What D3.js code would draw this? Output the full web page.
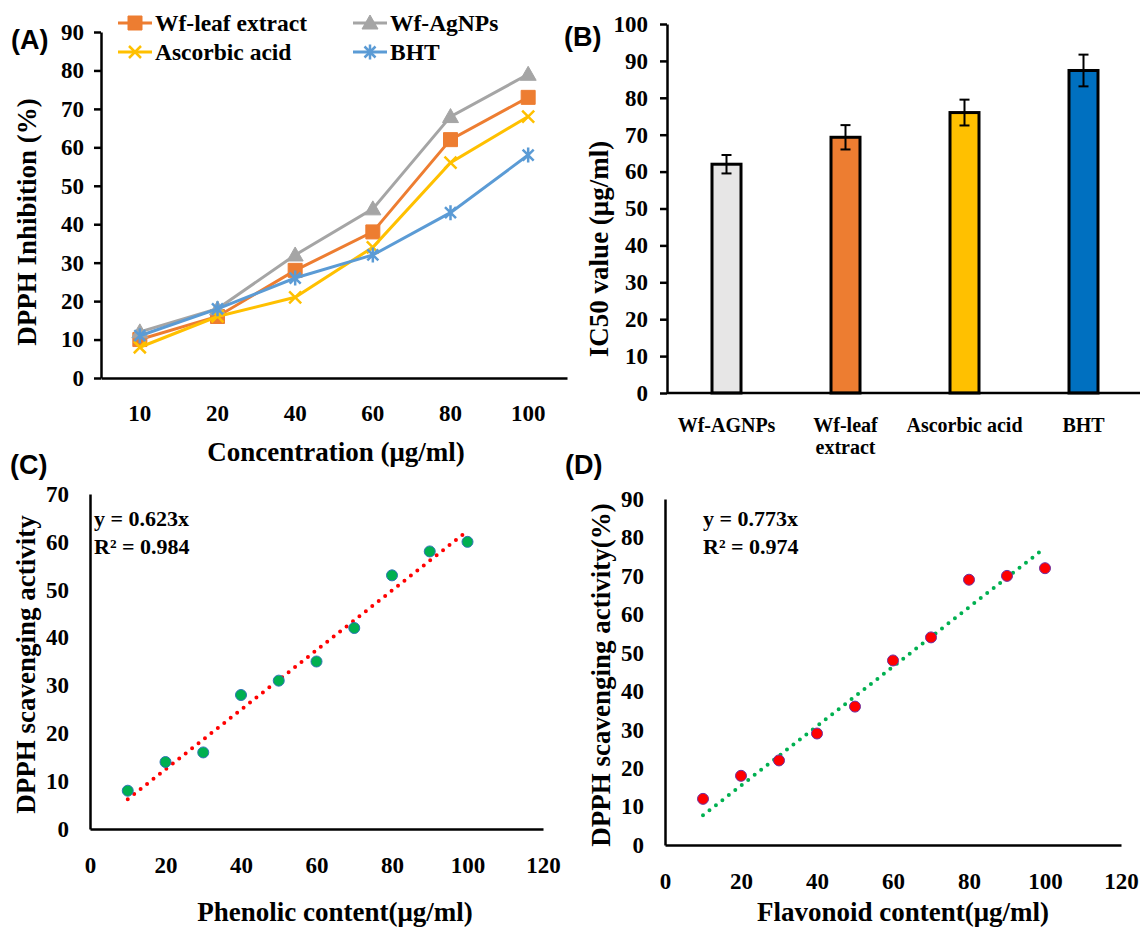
<!DOCTYPE html>
<html>
<head>
<meta charset="utf-8">
<script src="https://cdn.jsdelivr.net/npm/d3@7"></script>
<style>
  body { margin: 0; background: #fff; }
  svg text { font-family: "Liberation Serif", "Times New Roman", serif; font-weight: bold; fill: #000; }
  .panel-tag { font-family: "Liberation Sans", Arial, sans-serif; font-size: 27px; }
</style>
</head>
<body>
<svg id="fig" width="1140" height="929"></svg>
<script>
// ---- panel A data: DPPH inhibition vs concentration ----
const concLabels = ["10", "20", "40", "60", "80", "100"];
const leafExtract = [10, 16, 28, 38, 62, 73];
const agNPs = [12, 18, 32, 44, 68, 79];
const ascorbic = [8, 16, 21, 34, 56, 68];
const bht = [11, 18, 26, 32, 43, 58];
const ticksA = [0, 10, 20, 30, 40, 50, 60, 70, 80, 90];

// ---- panel B data: IC50 values ----
const ic50Names = ["Wf-AGNPs", "Wf-leaf extract", "Ascorbic acid", "BHT"];
const ic50Values = [62, 69.3, 76, 87.4];
const ic50Err = [2.5, 3.3, 3.5, 4.3];
const ticksB = [0, 10, 20, 30, 40, 50, 60, 70, 80, 90, 100];

// ---- panel C data: phenolic content ----
const phenolicX = [10, 20, 30, 40, 50, 60, 70, 80, 90, 100];
const phenolicY = [8, 14, 16, 28, 31, 35, 42, 53, 58, 60];
const phenolicSlope = 0.623;
const ticksCy = [0, 10, 20, 30, 40, 50, 60, 70];

// ---- panel D data: flavonoid content ----
const flavonoidX = [10, 20, 30, 40, 50, 60, 70, 80, 90, 100];
const flavonoidY = [12, 18, 22, 29, 36, 48, 54, 69, 70, 72];
const flavonoidSlope = 0.773;
const ticksDy = [0, 10, 20, 30, 40, 50, 60, 70, 80, 90];
const ticksX = [0, 20, 40, 60, 80, 100, 120];

const svg = d3.select("#fig");
svg.append("rect").attr("width", 1140).attr("height", 929).attr("fill", "#fff");

// style an axis: thick black line, bold serif labels
function styleAxis(g, fontSize) {
  g.select(".domain").attr("stroke", "#000").attr("stroke-width", 2.5);
  g.selectAll(".tick line").attr("stroke", "#000").attr("stroke-width", 2.5);
  g.selectAll(".tick text")
    .attr("font-size", fontSize)
    .attr("font-family", "Liberation Serif")
    .attr("font-weight", "bold")
    .attr("fill", "#000");
}

function markerPath(type) {
  if (type === "square") return "M-7,-7H7V7H-7Z";
  if (type === "triangle") return "M0,-8L8,6H-8Z";
  if (type === "x") return "M-6,-6L6,6M-6,6L6,-6";
  return "M-5.5,-5.5L5.5,5.5M-5.5,5.5L5.5,-5.5M0,-7.5L0,7.5"; // star
}
const filled = m => m === "square" || m === "triangle";

// ================= Panel A =================
const xA = d3.scaleBand().domain(concLabels).range([101, 567]);
const yA = d3.scaleLinear().domain([0, 90]).range([378, 32]);

const seriesA = [
  { name: "Wf-leaf extract", values: leafExtract, color: "#ED7D31", marker: "square" },
  { name: "Wf-AgNPs", values: agNPs, color: "#A5A5A5", marker: "triangle" },
  { name: "Ascorbic acid", values: ascorbic, color: "#FFC000", marker: "x" },
  { name: "BHT", values: bht, color: "#5B9BD5", marker: "star" },
];

const axAy = svg.append("g").attr("transform", "translate(101,0)")
  .call(d3.axisLeft(yA).tickValues(ticksA).tickSize(7).tickSizeOuter(0).tickPadding(10));
styleAxis(axAy, 23);

const axAx = svg.append("g").attr("transform", "translate(0,378)")
  .call(d3.axisBottom(xA).tickSize(0).tickSizeOuter(0));
styleAxis(axAx, 23);
axAx.selectAll(".tick text").attr("y", 35).attr("dy", "0.35em");

const lineA = d3.line()
  .x((d, i) => xA(concLabels[i]) + xA.bandwidth() / 2)
  .y(d => yA(d));

seriesA.forEach(s => {
  svg.append("path").attr("d", lineA(s.values))
    .attr("fill", "none").attr("stroke", s.color).attr("stroke-width", 3);
  svg.selectAll(null).data(s.values).enter().append("path")
    .attr("transform", (d, i) => `translate(${xA(concLabels[i]) + xA.bandwidth() / 2},${yA(d)})`)
    .attr("d", markerPath(s.marker))
    .attr("fill", filled(s.marker) ? s.color : "none")
    .attr("stroke", s.color)
    .attr("stroke-width", filled(s.marker) ? 1 : 2.5);
});

// legend of panel A
const legendPos = [[118, 23], [353, 23], [118, 52], [353, 52]];
seriesA.forEach((s, i) => {
  const [lx, ly] = legendPos[i];
  const g = svg.append("g").attr("transform", `translate(${lx},${ly})`);
  g.append("line").attr("x1", 0).attr("x2", 34).attr("stroke", s.color).attr("stroke-width", 3);
  g.append("path").attr("transform", "translate(17,0)").attr("d", markerPath(s.marker))
    .attr("fill", filled(s.marker) ? s.color : "none")
    .attr("stroke", s.color)
    .attr("stroke-width", filled(s.marker) ? 1 : 2.5);
  g.append("text").attr("x", 37).attr("dy", "0.35em").attr("font-size", 23.5).text(s.name);
});

svg.append("text").attr("transform", "translate(27,222) rotate(-90)")
  .attr("text-anchor", "middle").attr("dy", "0.35em").attr("font-size", 27)
  .text("DPPH Inhibition (%)");
svg.append("text").attr("x", 336).attr("y", 452).attr("dy", "0.35em")
  .attr("text-anchor", "middle").attr("font-size", 27).text("Concentration (μg/ml)");
svg.append("text").attr("class", "panel-tag").attr("x", 11).attr("y", 49).text("(A)");

// ================= Panel B =================
const xB = d3.scaleBand().domain(ic50Names).range([667, 1143]);
const yB = d3.scaleLinear().domain([0, 100]).range([393, 24]);
const barW = 29;

const axBy = svg.append("g").attr("transform", "translate(667,0)")
  .call(d3.axisLeft(yB).tickValues(ticksB).tickSize(7).tickSizeOuter(0).tickPadding(12));
styleAxis(axBy, 23);

const barColors = ["#E7E6E6", "#ED7D31", "#FFC000", "#0070C0"];
svg.selectAll(".barB").data(ic50Values).enter().append("rect")
  .attr("x", (d, i) => xB(ic50Names[i]) + xB.bandwidth() / 2 - barW / 2)
  .attr("y", d => yB(d))
  .attr("width", barW)
  .attr("height", d => yB(0) - yB(d))
  .attr("fill", (d, i) => barColors[i])
  .attr("stroke", "#000").attr("stroke-width", 3);

// error bars
ic50Values.forEach((v, i) => {
  const cx = xB(ic50Names[i]) + xB.bandwidth() / 2;
  const g = svg.append("g").attr("stroke", "#000").attr("stroke-width", 2);
  g.append("line").attr("x1", cx).attr("x2", cx).attr("y1", yB(v - ic50Err[i])).attr("y2", yB(v + ic50Err[i]));
  g.append("line").attr("x1", cx - 5).attr("x2", cx + 5).attr("y1", yB(v - ic50Err[i])).attr("y2", yB(v - ic50Err[i]));
  g.append("line").attr("x1", cx - 5).attr("x2", cx + 5).attr("y1", yB(v + ic50Err[i])).attr("y2", yB(v + ic50Err[i]));
});

const axBx = svg.append("g").attr("transform", "translate(0,393)")
  .call(d3.axisBottom(xB).tickSize(0).tickSizeOuter(0));
styleAxis(axBx, 20);
axBx.select(".domain").attr("d", "M667,0H1140");
// wrap labels clearly wider than a band onto two lines
axBx.selectAll(".tick text").each(function (d) {
  const t = d3.select(this);
  t.attr("y", 32).attr("dy", "0.35em");
  if (this.getComputedTextLength() > xB.bandwidth() + 6) {
    const words = d.split(" ");
    t.text(null);
    t.append("tspan").attr("x", 0).attr("dy", "0.35em").text(words.slice(0, -1).join(" "));
    t.append("tspan").attr("x", 0).attr("dy", "1.1em").text(words[words.length - 1]);
  }
});

svg.append("text").attr("transform", "translate(599,249) rotate(-90)")
  .attr("text-anchor", "middle").attr("dy", "0.35em").attr("font-size", 27)
  .text("IC50 value (μg/ml)");
svg.append("text").attr("class", "panel-tag").attr("x", 564).attr("y", 46).text("(B)");

// ================= scatter panels C & D =================
function scatterPanel(opt) {
  const x = d3.scaleLinear().domain([0, 120]).range([opt.left, opt.right]);
  const y = d3.scaleLinear().domain([0, opt.ymax]).range([opt.bottom, opt.top]);

  const ay = svg.append("g").attr("transform", `translate(${opt.left},0)`)
    .call(d3.axisLeft(y).tickValues(opt.yticks).tickSize(0).tickSizeOuter(0).tickPadding(21));
  styleAxis(ay, 23);
  const ax = svg.append("g").attr("transform", `translate(0,${opt.bottom})`)
    .call(d3.axisBottom(x).tickValues(ticksX).tickSize(0).tickSizeOuter(0));
  styleAxis(ax, 23);
  ax.selectAll(".tick text").attr("y", opt.xlabOff).attr("dy", "0.35em");

  // dotted linear trendline through origin
  const x0 = d3.min(opt.xs), x1 = d3.max(opt.xs);
  svg.append("line")
    .attr("x1", x(x0)).attr("y1", y(opt.slope * x0))
    .attr("x2", x(x1)).attr("y2", y(opt.slope * x1))
    .attr("stroke", opt.trendColor).attr("stroke-width", 4)
    .attr("stroke-linecap", "round").attr("stroke-dasharray", "0 8.2");

  svg.selectAll(null).data(opt.ys).enter().append("circle")
    .attr("cx", (d, i) => x(opt.xs[i])).attr("cy", d => y(d)).attr("r", 5.5)
    .attr("fill", opt.pointColor).attr("stroke", opt.pointStroke).attr("stroke-width", 1);

  svg.append("text").attr("x", opt.eqX).attr("y", opt.eqY).attr("dy", "0.35em")
    .attr("font-size", 22).text(`y = ${opt.slope}x`);
  svg.append("text").attr("x", opt.eqX).attr("y", opt.eqY + 28).attr("dy", "0.35em")
    .attr("font-size", 22).text(`R² = ${opt.r2}`);

  svg.append("text").attr("transform", `translate(${opt.ytitleX},${(opt.top + opt.bottom) / 2 + 3}) rotate(-90)`)
    .attr("text-anchor", "middle").attr("dy", "0.35em").attr("font-size", 27).text(opt.ytitle);
  svg.append("text").attr("x", opt.xtitleX).attr("y", 912).attr("dy", "0.35em")
    .attr("text-anchor", "middle").attr("font-size", 27).text(opt.xtitle);
  svg.append("text").attr("class", "panel-tag").attr("x", opt.tagX).attr("y", 474).text(opt.tag);
}

scatterPanel({
  left: 90, right: 543, top: 494, bottom: 829, ymax: 70, yticks: ticksCy, xlabOff: 36,
  xs: phenolicX, ys: phenolicY, slope: phenolicSlope, r2: "0.984",
  trendColor: "#FF0000", pointColor: "#00B050", pointStroke: "#2E75B6",
  eqX: 94, eqY: 518, ytitleX: 26, ytitle: "DPPH scavenging activity",
  xtitleX: 335, xtitle: "Phenolic content(μg/ml)", tagX: 10, tag: "(C)"
});

scatterPanel({
  left: 665, right: 1121, top: 499, bottom: 845, ymax: 90, yticks: ticksDy, xlabOff: 36,
  xs: flavonoidX, ys: flavonoidY, slope: flavonoidSlope, r2: "0.974",
  trendColor: "#00B050", pointColor: "#FF0000", pointStroke: "#7030A0",
  eqX: 703, eqY: 518, ytitleX: 601, ytitle: "DPPH scavenging activity(%)",
  xtitleX: 903, xtitle: "Flavonoid content(μg/ml)", tagX: 565, tag: "(D)"
});
</script>
</body>
</html>
